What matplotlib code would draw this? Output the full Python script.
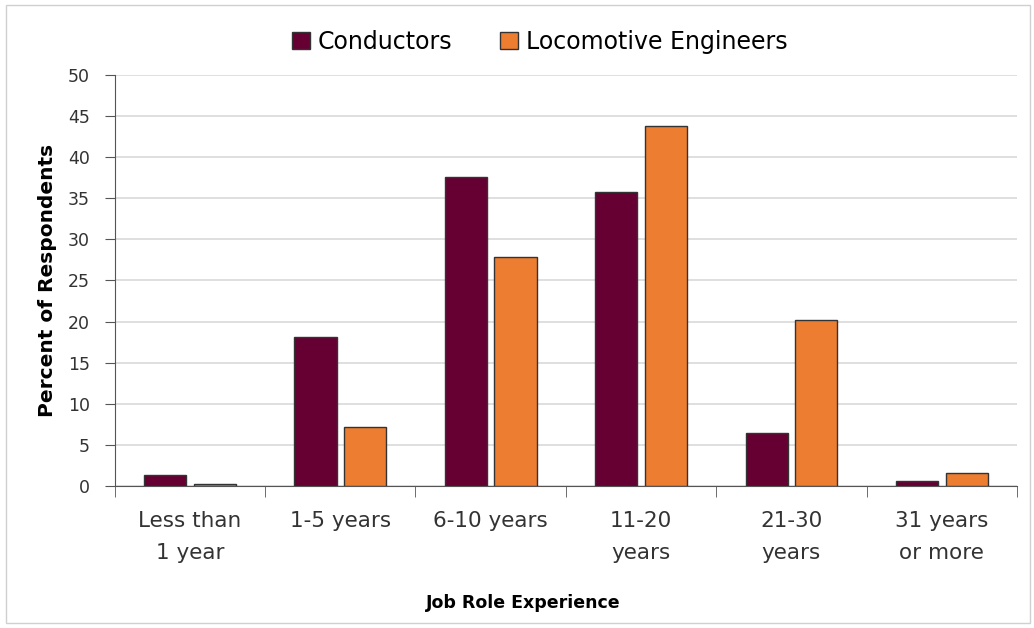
import matplotlib.pyplot as plt
import matplotlib.patches as patches
import numpy as np

# データ
categories = ['Less than\n1 year', '1-5 years', '6-10 years', '11-20\nyears', '21-30\nyears', '31 years\nor more']
conductors = [1.4, 18.1, 37.6, 35.8, 6.4, 0.6]
engineers = [0.2, 7.2, 27.8, 43.8, 20.2, 1.6]

plt.rcParams['font.family'] = ['DejaVu Sans']

fig = plt.figure(figsize=(10.34, 6.28), dpi=100)
ax = fig.add_axes([0.111, 0.2261, 0.8725, 0.6545])

x = np.arange(len(categories))
w = 0.28
ax.bar(x - 0.165, conductors, w, color='#660033', edgecolor='#333333', linewidth=1, label='Conductors', zorder=3)
ax.bar(x + 0.165, engineers, w, color='#ED7D31', edgecolor='#333333', linewidth=1, label='Locomotive Engineers', zorder=3)

ax.set_xlim(-0.5, len(categories) - 0.5)
ax.set_ylim(0, 50)
ax.set_yticks(np.arange(0, 51, 5))
ax.yaxis.grid(True, color='#d9d9d9', linewidth=1.2, zorder=0)

ax.set_xticks(x)
ax.set_xticklabels(categories, fontsize=15.5, color='#333333', linespacing=1.75)
ax.set_xticks(np.arange(-0.5, len(categories), 1), minor=True)
ax.tick_params(axis='x', which='major', length=0, pad=18)
ax.tick_params(axis='x', which='minor', length=8, color='#555555', direction='out')
ax.tick_params(axis='y', length=7, color='#555555', labelsize=12.5, labelcolor='#333333', pad=11)

for s in ['top', 'right']:
    ax.spines[s].set_visible(False)
ax.spines['left'].set_color('#555555')
ax.spines['bottom'].set_color('#555555')

ax.set_ylabel('Percent of Respondents', fontsize=14.5, fontweight='bold', labelpad=8)
ax.set_xlabel('Job Role Experience', fontsize=12.5, fontweight='bold')
ax.xaxis.set_label_coords(0.453, -0.262)

ax.legend(loc='lower center', bbox_to_anchor=(0.471, 1.0), ncol=2, frameon=False,
          fontsize=17, handlelength=0.75, handleheight=0.75, columnspacing=2.0, handletextpad=0.35)

# 外枠
fig.patches.append(patches.Rectangle((0.006, 0.008), 0.99, 0.984, transform=fig.transFigure,
                                     fill=False, edgecolor='#d0d0d0', linewidth=1))

plt.savefig('out.png')
